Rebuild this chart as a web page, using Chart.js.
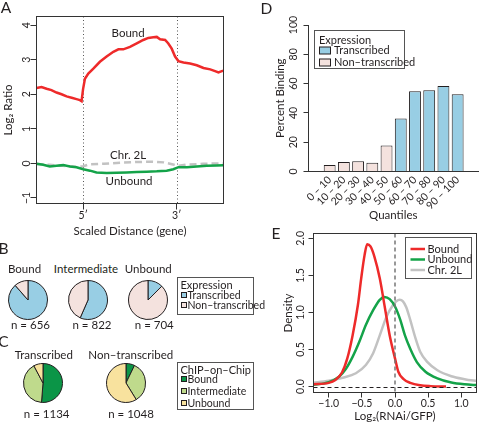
<!DOCTYPE html>
<html>
<head>
<meta charset="utf-8">
<title>ChIP binding vs expression</title>
<script src="https://cdn.jsdelivr.net/npm/chart.js@4"></script>
<style>
  body { margin: 0; background: #fff; }
  #fig { position: relative; width: 480px; height: 425px; overflow: hidden;
         font-family: Lato, "Open Sans", sans-serif; color: #231f20; }
  #fig canvas { position: absolute; }
  .txt { position: absolute; white-space: nowrap; line-height: 1; transform: translate(-50%, -50%); }
  .leg { position: absolute; border: 1px solid #555; box-sizing: border-box; background: #fff; }
  .leg span { position: absolute; white-space: nowrap; line-height: 1; font-size: 10.5px; transform: translateY(-50%); }
  .leg i { position: absolute; width: 6px; height: 6px; border: 1px solid #231f20; box-sizing: border-box; transform: translateY(-50%); }
</style>
</head>
<body>
<div id="fig">
  <canvas id="chartA" width="240" height="240" style="left:0;top:0"></canvas>
  <canvas id="chartD" width="240" height="225" style="left:240px;top:0"></canvas>
  <canvas id="chartE" width="240" height="215" style="left:240px;top:210px"></canvas>
  <canvas id="pieB0" width="42" height="42" style="left:7px;top:279px"></canvas>
  <canvas id="pieB1" width="42" height="42" style="left:67px;top:279px"></canvas>
  <canvas id="pieB2" width="42" height="42" style="left:127px;top:279px"></canvas>
  <canvas id="pieC0" width="42" height="42" style="left:22px;top:362px"></canvas>
  <canvas id="pieC1" width="42" height="42" style="left:105px;top:362px"></canvas>
</div>
<script>
// ---- A: log2 ratio along the scaled gene body ----
const geneTicks = [25, 75];
const geneTickLabels = ["5′", "3′"];
const ratioTicks = [-1, 0, 1, 2, 3, 4];

const boundPos = [0, 2.7, 5.4, 8, 10.7, 13.4, 16.1, 18.8, 21.4, 23.2, 24.1, 24.9, 25.9, 27.7, 30.4,
  33.9, 37.5, 41.1, 43.8, 46.4, 50, 53.6, 57.1, 59.8, 62.5, 64.3, 66.1, 68.8, 70.5, 72.3,
  74.1, 75.9, 78.6, 82.1, 85.7, 89.3, 92.9, 95.5, 97.3, 99.1, 100];
const boundRatio = [2.18, 2.21, 2.16, 2.12, 2.05, 2.0, 1.94, 1.9, 1.86, 1.83, 1.8, 2.15, 2.45, 2.6, 2.74,
  2.94, 3.09, 3.23, 3.3, 3.3, 3.37, 3.47, 3.57, 3.63, 3.65, 3.66, 3.59, 3.57, 3.47, 3.32,
  3.09, 2.96, 2.92, 2.89, 2.84, 2.76, 2.72, 2.67, 2.63, 2.67, 2.68];

const unboundPos = [0, 3.6, 7.1, 10.7, 14.3, 17.9, 21.4, 25, 28.6, 32.1, 37.5, 42.9, 48.2, 53.6, 58.9,
  64.3, 69.6, 73.2, 75.9, 80.4, 85.7, 91.1, 96.4, 100];
const unboundRatio = [-0.01, -0.04, -0.09, -0.07, -0.05, -0.09, -0.11, -0.17, -0.21, -0.26, -0.28, -0.27,
  -0.26, -0.25, -0.24, -0.23, -0.21, -0.17, -0.11, -0.11, -0.09, -0.07, -0.06, -0.05];

const chrPos = [0, 7, 14, 21, 25, 28, 36, 45, 54, 62, 68, 73, 76, 80, 89, 100];
const chrRatio = [-0.02, -0.04, -0.07, -0.1, -0.08, -0.03, -0.01, 0.02, 0.04, 0.05, 0.03, -0.03, -0.07, -0.04, -0.01, 0.0];

// ---- D: percent binding by expression quantile ----
const quantiles = ["0 – 10", "10 – 20", "20 – 30", "30 – 40", "40 – 50",
  "50 – 60", "60 – 70", "70 – 80", "80 – 90", "90 – 100"];
const percentBinding = [4.5, 6.4, 7.0, 5.9, 17.7, 36.1, 54.8, 55.5, 58.4, 52.7];
const isTranscribed = [false, false, false, false, false, true, true, true, true, true];
const bindingTicks = [0, 20, 40, 60, 80, 100];

// ---- E: density of log2(RNAi/GFP) ----
const log2Ticks = [-1, -0.5, 0, 0.5, 1];
const densityTicks = [0, 0.5, 1, 1.5, 2];
const boundLfc = [-1.25, -1.0, -0.9, -0.8, -0.72, -0.64, -0.56, -0.51, -0.46, -0.42, -0.37, -0.31,
  -0.23, -0.15, -0.08, 0.0, 0.05, 0.13, 0.23, 0.38, 0.54, 0.77];
const boundDensity = [0.03, 0.05, 0.09, 0.19, 0.38, 0.69, 1.1, 1.46, 1.77, 1.92, 1.89, 1.75,
  1.46, 1.05, 0.69, 0.38, 0.2, 0.1, 0.05, 0.018, 0.006, 0.0];
const unboundLfc = [-1.25, -1.0, -0.85, -0.74, -0.64, -0.54, -0.44, -0.33, -0.23, -0.16, -0.08, 0.0,
  0.08, 0.15, 0.23, 0.33, 0.46, 0.64, 0.85, 1.05, 1.25];
const unboundDensity = [0.02, 0.06, 0.13, 0.24, 0.4, 0.6, 0.83, 1.03, 1.17, 1.21, 1.18, 1.08,
  0.9, 0.69, 0.51, 0.33, 0.2, 0.11, 0.054, 0.03, 0.02];
const chrLfc = [-1.25, -1.0, -0.79, -0.59, -0.44, -0.33, -0.23, -0.13, -0.03, 0.02, 0.07, 0.12, 0.17, 0.23,
  0.31, 0.38, 0.49, 0.64, 0.85, 1.05, 1.25];
const chrDensity = [0.05, 0.08, 0.12, 0.18, 0.29, 0.45, 0.69, 0.94, 1.1, 1.15, 1.17, 1.15, 1.07, 0.9,
  0.65, 0.47, 0.33, 0.22, 0.14, 0.1, 0.072];

// ---- B / C: gene counts by binding class and expression ----
const bindingClasses = ["Bound", "Intermediate", "Unbound"];
const expressionClasses = ["Transcribed", "Non–transcribed"];
const transcribedCounts = [581, 465, 88];
const nonTranscribedCounts = [75, 357, 616];

const INK = "#231f20", AXIS = "#333";
const RED = "#ee2a2a", GREEN = "#14a349", GREY = "#c2c2c2";
const BLUE = "#98cee4", PINK = "#f4e2de";
const DKGREEN = "#0b9547", LTGREEN = "#bfda8c", YELLOW = "#f8e29e";
const exprColors = [BLUE, PINK];
const bindColors = [DKGREEN, LTGREEN, YELLOW];
const FONT = 'Lato, "Open Sans", sans-serif';

Chart.defaults.font.family = FONT;
Chart.defaults.font.size = 10.5;
Chart.defaults.color = INK;
Chart.defaults.animation = false;
Chart.defaults.events = [];
Chart.defaults.plugins.legend.display = false;
Chart.defaults.plugins.tooltip.enabled = false;

const pts = (xs, ys) => xs.map((x, i) => ({ x: x, y: ys[i] }));
const fixTicks = list => scale => { scale.ticks = list.map(v => ({ value: v })); };
const minus = s => s.replace("-", "−");

const frame = {
  id: "frame",
  afterDraw(chart) {
    const { ctx, chartArea: a } = chart;
    ctx.save();
    ctx.strokeStyle = AXIS;
    ctx.lineWidth = 1;
    ctx.strokeRect(a.left, a.top, a.right - a.left, a.bottom - a.top);
    ctx.restore();
  }
};

// R-style y labels, turned to read upwards, centred at x = cx
function uprightYLabels(cx, fmt) {
  return {
    id: "uprightY",
    afterDraw(chart) {
      const { ctx, scales: { y } } = chart;
      ctx.save();
      ctx.font = "10.5px " + FONT;
      ctx.fillStyle = INK;
      ctx.textAlign = "center";
      ctx.textBaseline = "middle";
      y.ticks.forEach(t => {
        ctx.save();
        ctx.translate(cx, y.getPixelForValue(t.value));
        ctx.rotate(-Math.PI / 2);
        ctx.fillText(fmt(t.value), 0, 0);
        ctx.restore();
      });
      ctx.restore();
    }
  };
}

// panel A
new Chart(document.getElementById("chartA"), {
  type: "line",
  data: {
    datasets: [
      { label: "Bound", data: pts(boundPos, boundRatio), borderColor: RED, borderWidth: 2.5 },
      { label: "Unbound", data: pts(unboundPos, unboundRatio), borderColor: GREEN, borderWidth: 2.5 },
      { label: "Chr. 2L", data: pts(chrPos, chrRatio), borderColor: GREY, borderWidth: 2.5, borderDash: [7, 4] }
    ]
  },
  options: {
    responsive: false,
    layout: { autoPadding: false, padding: { left: 0, top: 16.5, right: 16.5, bottom: 0 } },
    elements: { point: { radius: 0 }, line: { tension: 0 } },
    scales: {
      x: {
        type: "linear", min: 0, max: 100,
        afterBuildTicks: fixTicks(geneTicks),
        afterFit: s => { s.height = 36.5; },
        grid: { drawOnChartArea: false, tickLength: 6, color: AXIS },
        border: { display: false },
        ticks: { padding: 0, maxRotation: 0, callback: v => geneTickLabels[geneTicks.indexOf(v)] },
        title: { display: true, text: "Scaled Distance (gene)", font: { size: 11.5 }, padding: { top: 0, bottom: 2 } }
      },
      y: {
        min: -1.16, max: 4.25,
        afterBuildTicks: fixTicks(ratioTicks),
        afterFit: s => { s.width = 36.5; },
        grid: { drawOnChartArea: false, tickLength: 6, color: AXIS },
        border: { display: false },
        ticks: { display: false },
        title: { display: true, text: "Log₂ Ratio", font: { size: 11.5 }, padding: { top: 1, bottom: 0 } }
      }
    }
  },
  plugins: [frame, uprightYLabels(26.3, v => minus(String(v))), {
    id: "profileMarks",
    beforeDatasetsDraw(chart) {
      const { ctx, chartArea: a, scales: { x } } = chart;
      ctx.save();
      ctx.strokeStyle = "#555";
      ctx.lineWidth = 1;
      ctx.setLineDash([1, 2.5]);
      geneTicks.forEach(v => {
        const px = Math.round(x.getPixelForValue(v)) + 0.5;
        ctx.beginPath(); ctx.moveTo(px, a.top); ctx.lineTo(px, a.bottom); ctx.stroke();
      });
      ctx.restore();
    },
    afterDatasetsDraw(chart) {
      const { ctx, scales: { x, y } } = chart;
      ctx.save();
      ctx.font = "11.5px " + FONT;
      ctx.fillStyle = INK;
      ctx.textAlign = "center";
      ctx.textBaseline = "middle";
      ctx.fillText("Bound", x.getPixelForValue(49), y.getPixelForValue(3.77));
      ctx.fillText("Chr. 2L", x.getPixelForValue(49), y.getPixelForValue(0.24));
      ctx.fillText("Unbound", x.getPixelForValue(49.5), y.getPixelForValue(-0.51));
      ctx.restore();
    }
  }]
});

// panel D
new Chart(document.getElementById("chartD"), {
  type: "bar",
  data: {
    datasets: [{
      label: "Percent Binding",
      data: pts(quantiles.map((q, i) => i), percentBinding),
      backgroundColor: isTranscribed.map(t => t ? BLUE : PINK),
      borderColor: INK,
      borderWidth: 1,
      categoryPercentage: 1,
      barPercentage: 0.835
    }]
  },
  options: {
    responsive: false,
    layout: { autoPadding: false, padding: { left: 33, top: 25, right: 2, bottom: 0 } },
    scales: {
      x: {
        type: "linear", min: -0.892, max: 9.835,
        afterBuildTicks: fixTicks(quantiles.map((q, i) => i)),
        afterFit: s => { s.height = 53.5; },
        grid: { display: false, drawTicks: false, tickLength: 0 },
        border: { display: true, color: AXIS },
        ticks: { minRotation: 45, maxRotation: 45, autoSkip: false, padding: 2, callback: v => quantiles[v] },
        title: { display: true, text: "Quantiles", font: { size: 11.5 }, padding: { top: 0, bottom: 2.5 } }
      },
      y: {
        min: 0, max: 100,
        afterBuildTicks: fixTicks(bindingTicks),
        afterFit: s => { s.width = 35.5; },
        grid: { drawOnChartArea: false, tickLength: 5, color: AXIS },
        border: { display: true, color: AXIS },
        ticks: { display: false },
        title: { display: true, text: "Percent Binding", font: { size: 11.5 }, padding: { top: 0, bottom: 0 } }
      }
    }
  },
  plugins: [uprightYLabels(53.7, v => String(v)), {
    id: "exprLegend",
    afterDraw(chart) {
      const ctx = chart.ctx;
      ctx.save();
      ctx.fillStyle = "#fff";
      ctx.fillRect(74.5, 30.5, 90, 38);
      ctx.strokeStyle = "#555";
      ctx.lineWidth = 1;
      ctx.strokeRect(74.5, 30.5, 90, 38);
      ctx.font = "11px " + FONT;
      ctx.textBaseline = "middle";
      ctx.fillStyle = INK;
      ctx.fillText("Expression", 79, 40);
      expressionClasses.forEach((lab, i) => {
        const cy = 50.5 + i * 12;
        ctx.fillStyle = exprColors[i];
        ctx.fillRect(79.5, cy - 3.5, 11, 7);
        ctx.strokeStyle = INK;
        ctx.strokeRect(79.5, cy - 3.5, 11, 7);
        ctx.fillStyle = INK;
        ctx.fillText(lab, 94, cy);
      });
      ctx.restore();
    }
  }]
});

// panel E
const densSeries = [
  { label: "Bound", data: pts(boundLfc, boundDensity), color: RED },
  { label: "Unbound", data: pts(unboundLfc, unboundDensity), color: GREEN },
  { label: "Chr. 2L", data: pts(chrLfc, chrDensity), color: GREY }
];
new Chart(document.getElementById("chartE"), {
  type: "line",
  data: {
    datasets: densSeries.map(s => ({ label: s.label, data: s.data, borderColor: s.color, borderWidth: 2.5 }))
  },
  options: {
    responsive: false,
    layout: { autoPadding: false, padding: { left: 40, top: 23.5, right: 3.5, bottom: 0 } },
    elements: { point: { radius: 0 }, line: { cubicInterpolationMode: "monotone" } },
    scales: {
      x: {
        type: "linear", min: -1.23, max: 1.23,
        afterBuildTicks: fixTicks(log2Ticks),
        afterFit: s => { s.height = 32.5; },
        grid: { drawOnChartArea: false, tickLength: 5, color: AXIS },
        border: { display: false },
        ticks: { padding: 0, maxRotation: 0, callback: v => minus(v.toFixed(1)) },
        title: { display: true, text: "Log₂(RNAi/GFP)", font: { size: 11.5 }, padding: { top: 0, bottom: 2 } }
      },
      y: {
        min: -0.08, max: 2.065,
        afterBuildTicks: fixTicks(densityTicks),
        afterFit: s => { s.width = 33.5; },
        grid: { drawOnChartArea: false, tickLength: 5, color: AXIS },
        border: { display: false },
        ticks: { display: false },
        title: { display: true, text: "Density", font: { size: 11.5 }, padding: { top: 1, bottom: 0 } }
      }
    }
  },
  plugins: [frame, uprightYLabels(61, v => v.toFixed(1)), {
    id: "densityMarks",
    afterDatasetsDraw(chart) {
      const { ctx, chartArea: a, scales: { x, y } } = chart;
      ctx.save();
      ctx.lineWidth = 1;
      ctx.setLineDash([4, 3]);
      ctx.strokeStyle = INK;
      const py = Math.round(y.getPixelForValue(0)) + 0.5;
      ctx.beginPath(); ctx.moveTo(a.left, py); ctx.lineTo(a.right, py); ctx.stroke();
      ctx.lineWidth = 1.5;
      ctx.strokeStyle = "#777";
      const px = Math.round(x.getPixelForValue(0));
      ctx.beginPath(); ctx.moveTo(px, a.top); ctx.lineTo(px, a.bottom); ctx.stroke();
      ctx.restore();
    },
    afterDraw(chart) {
      const ctx = chart.ctx;
      ctx.save();
      ctx.fillStyle = "#fff";
      ctx.fillRect(165.5, 27.5, 66, 41);
      ctx.strokeStyle = "#555";
      ctx.lineWidth = 1;
      ctx.strokeRect(165.5, 27.5, 66, 41);
      ctx.font = "11px " + FONT;
      ctx.textBaseline = "middle";
      densSeries.forEach((s, i) => {
        const cy = 39 + i * 10.5;
        ctx.strokeStyle = s.color;
        ctx.lineWidth = 2.5;
        ctx.beginPath(); ctx.moveTo(170.5, cy); ctx.lineTo(185, cy); ctx.stroke();
        ctx.fillStyle = INK;
        ctx.fillText(s.label, 187.5, cy);
      });
      ctx.restore();
    }
  }]
});

// panels B and C: pies
function pie(id, labels, values, colors) {
  new Chart(document.getElementById(id), {
    type: "pie",
    data: { labels: labels, datasets: [{ data: values, backgroundColor: colors, borderColor: INK, borderWidth: 1, hoverOffset: 0, offset: 0 }] },
    options: { responsive: false, radius: 19.5, layout: { padding: 0 } }
  });
}
bindingClasses.forEach((b, i) => {
  pie("pieB" + i, expressionClasses, [transcribedCounts[i], nonTranscribedCounts[i]], exprColors);
});
pie("pieC0", bindingClasses, transcribedCounts, bindColors);
pie("pieC1", bindingClasses, nonTranscribedCounts, bindColors);

// text labels
const fig = document.getElementById("fig");
function text(str, x, y, size) {
  const d = document.createElement("div");
  d.className = "txt";
  d.textContent = str;
  d.style.left = x + "px";
  d.style.top = y + "px";
  d.style.fontSize = size + "px";
  fig.appendChild(d);
}
const sum = a => a.reduce((s, v) => s + v, 0);
text("A", 6, 7.5, 15.5);
text("B", 3.5, 248.5, 15.5);
text("C", 3.5, 341.5, 15.5);
text("D", 266.5, 8.5, 15.5);
text("E", 276, 234, 15.5);
[24.5, 86, 148.3].forEach((x, i) => {
  text(bindingClasses[i], x, 269, 11.5);
  text("n = " + (transcribedCounts[i] + nonTranscribedCounts[i]), x + 6, 324.5, 11.5);
});
text(expressionClasses[0], 43.8, 354.5, 11.5);
text(expressionClasses[1], 130.8, 354.5, 11.5);
text("n = " + sum(transcribedCounts), 46.7, 414, 11.5);
text("n = " + sum(nonTranscribedCounts), 131, 414, 11.5);

function htmlLegend(left, top, width, height, title, titleY, labels, colors, rowY) {
  const box = document.createElement("div");
  box.className = "leg";
  Object.assign(box.style, { left: left + "px", top: top + "px", width: width + "px", height: height + "px" });
  let html = '<span style="left:2.5px;top:' + titleY + 'px;font-size:11px">' + title + "</span>";
  labels.forEach((lab, i) => {
    const y = rowY[i];
    html += '<i style="left:3px;top:' + y + "px;background:" + colors[i] + '"></i>';
    html += '<span style="left:9.5px;top:' + y + 'px">' + lab + "</span>";
  });
  box.innerHTML = html;
  fig.appendChild(box);
}
htmlLegend(177, 277, 77, 38, "Expression", 5.8, expressionClasses, exprColors, [17.2, 27.2]);
htmlLegend(177, 362, 77, 48, "ChIP–on–Chip", 6.2, bindingClasses, bindColors, [16.4, 28.4, 40.2]);
</script>
</body>
</html>
